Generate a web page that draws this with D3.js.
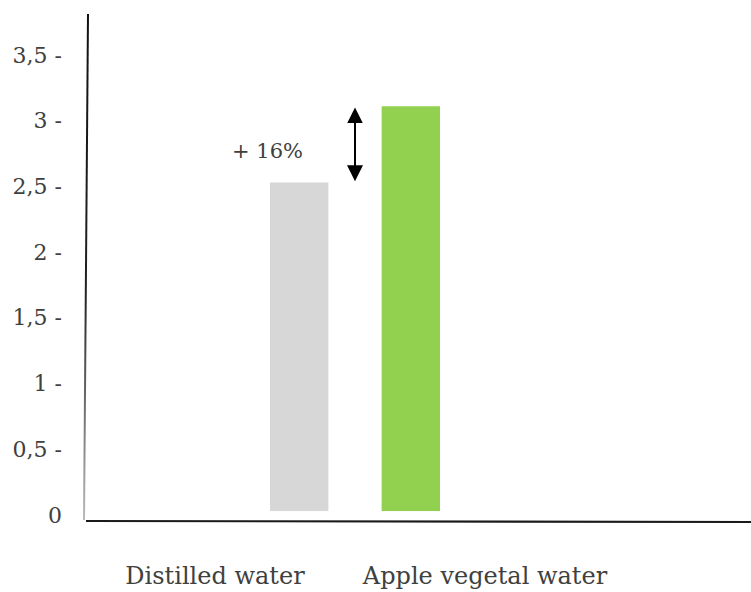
<!DOCTYPE html>
<html>
<head>
<meta charset="utf-8">
<script src="https://cdn.jsdelivr.net/npm/d3@7"></script>
<style>
  body { margin: 0; background: #fff; }
</style>
</head>
<body>
<script>
const w = 751,
  h = 592;

const categories = ['Distilled water', 'Apple vegetal water'];
const values = [2.53, 3.11];
const baseValue = 0.03;
const colors = ['#d7d7d7', '#92d050'];
const tickValues = [0, 0.5, 1, 1.5, 2, 2.5, 3, 3.5];
const changeLabel = '+ 16%';

const serif = "'DejaVu Serif', serif";
const textColor = '#3f413e';

const yScale = d3.scaleLinear()
  .domain([0, 3.5])
  .range([515, 55]);

const xScale = d3.scaleBand()
  .domain(categories)
  .range([270, 440])
  .paddingInner(0.477);

// labels sit off-centre from the bars in the original
const labelScale = d3.scalePoint()
  .domain(categories)
  .range([215, 485]);

const svg = d3.select('body')
  .append('svg')
  .attr('width', w)
  .attr('height', h);

const defs = svg.append('defs');

const grad = defs.append('linearGradient')
  .attr('id', 'yfade')
  .attr('gradientUnits', 'userSpaceOnUse')
  .attr('x1', 0).attr('y1', 14)
  .attr('x2', 0).attr('y2', 520);
grad.append('stop').attr('offset', '0%').attr('stop-color', '#111');
grad.append('stop').attr('offset', '55%').attr('stop-color', '#222');
grad.append('stop').attr('offset', '100%').attr('stop-color', '#bbb');

['arrowEnd', 'arrowStart'].forEach((id, i) => {
  defs.append('marker')
    .attr('id', id)
    .attr('viewBox', '0 0 10 10')
    .attr('refX', 2)
    .attr('refY', 5)
    .attr('markerWidth', 8)
    .attr('markerHeight', 8)
    .attr('markerUnits', 'strokeWidth')
    .attr('orient', i === 0 ? 'auto' : 'auto-start-reverse')
    .append('path')
    .attr('d', 'M0,0 L10,5 L0,10 Z')
    .attr('fill', '#000');
});

// bars
svg.selectAll('rect.bar')
  .data(values)
  .enter()
  .append('rect')
  .classed('bar', true)
  .attr('x', (d, i) => xScale(categories[i]))
  .attr('width', xScale.bandwidth())
  .attr('y', d => yScale(d))
  .attr('height', d => yScale(baseValue) - yScale(d))
  .attr('fill', (d, i) => colors[i]);

// y axis labels (dash is part of the label)
const yAxis = d3.axisLeft()
  .scale(yScale)
  .tickValues(tickValues)
  .tickSize(0)
  .tickPadding(0)
  .tickFormat(d => d === 0 ? '0' : String(d).replace('.', ',') + ' -');

const yg = svg.append('g')
  .classed('y axis', true)
  .attr('transform', 'translate(62, 0)')
  .call(yAxis)
  .attr('font-family', serif)
  .attr('font-size', 22);
yg.select('.domain').remove();
yg.selectAll('text')
  .attr('fill', textColor);

// axis lines
svg.append('line')
  .attr('x1', 88).attr('y1', 14)
  .attr('x2', 84).attr('y2', 520)
  .attr('stroke', 'url(#yfade)')
  .attr('stroke-width', 2);

svg.append('line')
  .attr('x1', 86).attr('y1', 521)
  .attr('x2', w).attr('y2', 522)
  .attr('stroke', '#1a1a1a')
  .attr('stroke-width', 2.2);

// category labels
svg.selectAll('text.cat')
  .data(categories)
  .enter()
  .append('text')
  .classed('cat', true)
  .attr('x', d => labelScale(d))
  .attr('y', 584)
  .attr('text-anchor', 'middle')
  .attr('font-family', serif)
  .attr('font-size', 24)
  .attr('fill', textColor)
  .text(d => d);

// difference arrow
const arrowX = (xScale(categories[0]) + xScale.bandwidth() + xScale(categories[1])) / 2;
svg.append('line')
  .attr('x1', arrowX).attr('y1', yScale(values[1]) + 14)
  .attr('x2', arrowX).attr('y2', yScale(values[0]) - 14)
  .attr('stroke', '#000')
  .attr('stroke-width', 2)
  .attr('marker-start', 'url(#arrowStart)')
  .attr('marker-end', 'url(#arrowEnd)');

svg.append('text')
  .attr('x', 303)
  .attr('y', 158)
  .attr('text-anchor', 'end')
  .attr('font-family', serif)
  .attr('font-size', 21)
  .attr('fill', textColor)
  .text(changeLabel);
</script>
</body>
</html>
